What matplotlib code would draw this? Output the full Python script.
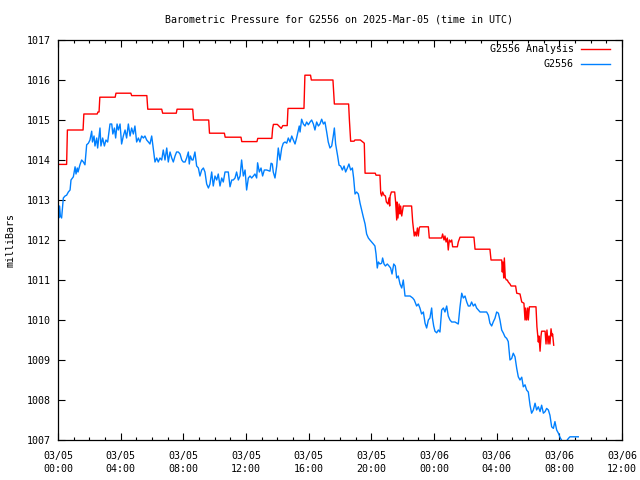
import matplotlib
matplotlib.use("Agg")
import matplotlib.pyplot as plt
from matplotlib.ticker import MultipleLocator

plt.rcParams['font.family'] = ['DejaVu Sans Mono']

title = "Barometric Pressure for G2556 on 2025-Mar-05 (time in UTC)"
ylabel = "milliBars"

# hours since 03/05 00:00 UTC, pressure in mbar
obs_hours = [0.0, 0.05, 0.1, 0.15, 0.23, 0.34, 0.45, 0.55, 0.66, 0.77, 0.83, 0.98, 1.09, 1.15, 1.23, 1.28,
             1.4, 1.51, 1.62, 1.72, 1.83, 1.94, 2.04, 2.15, 2.2, 2.3, 2.36, 2.47, 2.53, 2.68, 2.74, 2.85,
             2.96, 3.06, 3.17, 3.32, 3.43, 3.5, 3.6, 3.68, 3.77, 3.85, 3.96, 4.06, 4.17, 4.28, 4.38, 4.49,
             4.6, 4.7, 4.81, 4.91, 5.02, 5.13, 5.23, 5.34, 5.45, 5.55, 5.66, 5.77, 5.87, 5.98, 6.09, 6.19,
             6.3, 6.4, 6.51, 6.62, 6.72, 6.83, 6.94, 7.04, 7.15, 7.26, 7.36, 7.47, 7.57, 7.68, 7.79, 7.9,
             8.0, 8.11, 8.21, 8.32, 8.38, 8.45, 8.55, 8.62, 8.74, 8.85, 8.96, 9.06, 9.17, 9.28, 9.38, 9.49,
             9.6, 9.7, 9.81, 9.91, 10.02, 10.13, 10.23, 10.34, 10.45, 10.55, 10.66, 10.77, 10.87, 10.98,
             11.09, 11.19, 11.3, 11.4, 11.51, 11.62, 11.72, 11.83, 11.94, 12.04, 12.15, 12.26, 12.36,
             12.47, 12.57, 12.68, 12.74, 12.85, 12.96, 13.06, 13.17, 13.32, 13.53, 13.6, 13.68, 13.74,
             13.85, 13.96, 14.06, 14.17, 14.28, 14.38, 14.49, 14.6, 14.7, 14.81, 14.92, 15.02, 15.13,
             15.23, 15.34, 15.4, 15.45, 15.55, 15.66, 15.77, 15.87, 15.98, 16.09, 16.19, 16.3, 16.4,
             16.51, 16.62, 16.72, 16.83, 16.94, 17.04, 17.15, 17.25, 17.36, 17.47, 17.57, 17.64, 17.72,
             17.85, 17.94, 18.04, 18.15, 18.26, 18.36, 18.47, 18.57, 18.68, 18.79, 18.87, 18.96, 19.06,
             19.17, 19.28, 19.38, 19.49, 19.6, 19.7, 19.81, 19.91, 20.02, 20.13, 20.23, 20.3, 20.38,
             20.45, 20.55, 20.66, 20.72, 20.81, 20.9, 21.02, 21.13, 21.23, 21.32, 21.43, 21.53, 21.62,
             21.72, 21.83, 21.94, 22.04, 22.15, 22.26, 22.47, 22.64, 22.74, 22.89, 23.0, 23.1, 23.21,
             23.32, 23.43, 23.53, 23.64, 23.74, 23.85, 23.9, 23.98, 24.06, 24.17, 24.28, 24.38, 24.49,
             24.6, 24.7, 24.81, 24.91, 25.02, 25.13, 25.34, 25.55, 25.66, 25.77, 25.87, 25.98, 26.09,
             26.19, 26.3, 26.4, 26.51, 26.62, 26.72, 26.83, 26.94, 27.15, 27.36, 27.47, 27.57, 27.68,
             27.79, 27.89, 28.0, 28.11, 28.21, 28.32, 28.43, 28.53, 28.64, 28.74, 28.85, 28.96, 29.06,
             29.17, 29.28, 29.38, 29.49, 29.6, 29.7, 29.81, 29.91, 30.02, 30.13, 30.23, 30.34, 30.45,
             30.55, 30.66, 30.77, 30.87, 30.98, 31.09, 31.19, 31.3, 31.4, 31.51, 31.62, 31.72, 31.83,
             31.94, 32.04, 32.19, 32.32, 32.47, 32.58, 32.68, 33.21]
obs_mbar = [1012.7, 1012.55, 1012.85, 1012.6, 1012.55, 1013.05, 1013.1, 1013.12, 1013.2, 1013.25, 1013.5,
            1013.58, 1013.83, 1013.65, 1013.8, 1013.7, 1013.88, 1014.0, 1013.95, 1013.88, 1014.38,
            1014.42, 1014.5, 1014.72, 1014.45, 1014.6, 1014.35, 1014.55, 1014.3, 1014.8, 1014.35,
            1014.55, 1014.35, 1014.5, 1014.45, 1014.9, 1014.9, 1014.65, 1014.8, 1014.55, 1014.9,
            1014.75, 1014.9, 1014.4, 1014.6, 1014.75, 1014.55, 1014.9, 1014.6, 1014.8, 1014.65,
            1014.85, 1014.45, 1014.55, 1014.45, 1014.6, 1014.55, 1014.6, 1014.5, 1014.45, 1014.4,
            1014.6, 1014.25, 1013.95, 1014.05, 1013.95, 1014.05, 1014.0, 1014.25, 1014.0, 1014.3,
            1013.95, 1014.2, 1014.05, 1013.95, 1014.1, 1014.2, 1014.2, 1014.15, 1014.0, 1013.95,
            1013.95, 1014.05, 1014.2, 1013.9, 1014.1, 1014.0, 1014.0, 1014.2, 1013.85, 1013.8, 1013.6,
            1013.75, 1013.8, 1013.7, 1013.4, 1013.3, 1013.4, 1013.7, 1013.35, 1013.6, 1013.5, 1013.65,
            1013.35, 1013.55, 1013.45, 1013.7, 1013.7, 1013.7, 1013.33, 1013.5, 1013.5, 1013.55,
            1013.7, 1013.5, 1013.6, 1014.0, 1013.6, 1013.75, 1013.25, 1013.55, 1013.6, 1013.55,
            1013.6, 1013.65, 1013.55, 1013.93, 1013.7, 1013.8, 1013.6, 1013.75, 1013.75, 1013.72,
            1013.92, 1013.9, 1013.7, 1013.55, 1013.85, 1014.3, 1014.0, 1014.3, 1014.42, 1014.45,
            1014.42, 1014.55, 1014.45, 1014.6, 1014.5, 1014.4, 1014.55, 1014.75, 1014.85, 1014.7,
            1015.02, 1014.9, 1014.85, 1014.95, 1014.88, 1014.95, 1015.0, 1014.9, 1014.75, 1014.95,
            1014.85, 1014.9, 1015.02, 1014.9, 1014.95, 1014.7, 1014.45, 1014.3, 1014.35, 1014.6,
            1014.8, 1014.4, 1014.1, 1013.87, 1013.85, 1013.75, 1013.85, 1013.7, 1013.8, 1013.9,
            1013.75, 1013.8, 1013.55, 1013.15, 1013.2, 1013.15, 1012.92, 1012.75, 1012.57, 1012.4,
            1012.15, 1012.05, 1012.0, 1011.95, 1011.9, 1011.85, 1011.65, 1011.3, 1011.45, 1011.4,
            1011.42, 1011.55, 1011.4, 1011.35, 1011.4, 1011.35, 1011.3, 1011.15, 1011.4, 1011.35,
            1011.05, 1011.1, 1010.9, 1010.8, 1011.0, 1010.6, 1010.6, 1010.6, 1010.55, 1010.5, 1010.35,
            1010.4, 1010.3, 1010.15, 1010.2, 1009.92, 1009.8, 1010.0, 1010.05, 1010.3, 1010.05,
            1009.85, 1009.72, 1009.68, 1009.75, 1009.7, 1010.25, 1010.3, 1010.2, 1010.35, 1010.1,
            1010.0, 1009.95, 1009.95, 1009.9, 1010.33, 1010.67, 1010.55, 1010.6, 1010.45, 1010.35,
            1010.35, 1010.45, 1010.35, 1010.4, 1010.3, 1010.25, 1010.2, 1010.2, 1010.2, 1010.12,
            1009.92, 1009.85, 1009.96, 1010.04, 1010.2, 1010.17, 1010.0, 1009.75, 1009.67, 1009.58,
            1009.54, 1009.46, 1009.0, 1009.04, 1009.17, 1009.08, 1008.79, 1008.58, 1008.5, 1008.57,
            1008.33, 1008.38, 1008.25, 1008.2, 1007.87, 1007.67, 1007.75, 1007.92, 1007.75, 1007.83,
            1007.71, 1007.87, 1007.67, 1007.71, 1007.79, 1007.75, 1007.62, 1007.33, 1007.29, 1007.46,
            1007.25, 1007.17, 1007.07, 1006.96, 1006.9, 1006.98, 1007.04, 1007.08, 1007.08]

ana_hours = [0.0, 0.55, 0.6, 1.6, 1.65, 2.5, 2.55, 2.62, 2.67, 3.65, 3.7, 4.65, 4.7, 5.67, 5.73, 6.62, 6.68,
             7.55, 7.6, 8.6, 8.65, 9.62, 9.67, 10.62, 10.67, 11.68, 11.73, 12.7, 12.75, 13.65, 13.7, 13.75,
             14.0, 14.1, 14.25, 14.35, 14.63, 14.68, 15.7, 15.73, 15.76, 16.12, 16.17, 17.55, 17.6, 17.64,
             18.55, 18.6, 18.68, 18.9, 18.95, 19.3, 19.45, 19.55, 19.6, 20.25, 20.3, 20.55, 20.6, 20.66,
             20.72, 20.81, 20.9, 20.96, 21.06, 21.13, 21.17, 21.2, 21.28, 21.49, 21.55, 21.62, 21.64,
             21.7, 21.77, 21.83, 21.87, 21.94, 22.04, 22.57, 22.64, 22.74, 22.8, 22.87, 22.94, 23.0,
             23.06, 23.1, 23.64, 23.7, 24.49, 24.55, 24.64, 24.7, 24.77, 24.85, 24.91, 24.98, 25.06,
             25.13, 25.19, 25.49, 25.55, 25.66, 26.55, 26.62, 27.57, 27.64, 28.32, 28.36, 28.4, 28.45,
             28.49, 28.55, 28.62, 28.68, 28.74, 28.85, 28.92, 29.21, 29.28, 29.49, 29.6, 29.74, 29.81,
             29.85, 29.91, 29.98, 30.02, 30.09, 30.51, 30.57, 30.66, 30.7, 30.77, 30.83, 30.87, 31.09,
             31.15, 31.21, 31.28, 31.34, 31.4, 31.47, 31.53, 31.57, 31.64]
ana_mbar = [1013.89, 1013.89, 1014.75, 1014.75, 1015.15, 1015.15, 1015.2, 1015.2, 1015.57, 1015.57,
            1015.67, 1015.67, 1015.61, 1015.61, 1015.27, 1015.27, 1015.17, 1015.17, 1015.27, 1015.27,
            1015.0, 1015.0, 1014.67, 1014.67, 1014.57, 1014.57, 1014.46, 1014.46, 1014.54, 1014.54,
            1014.79, 1014.89, 1014.89, 1014.85, 1014.79, 1014.86, 1014.86, 1015.29, 1015.29, 1015.69,
            1016.12, 1016.12, 1016.0, 1016.0, 1015.69, 1015.4, 1015.4, 1015.0, 1014.47, 1014.47,
            1014.5, 1014.5, 1014.45, 1014.42, 1013.67, 1013.67, 1013.62, 1013.62, 1013.17, 1013.1,
            1013.2, 1013.12, 1013.1, 1012.95, 1012.9, 1013.05, 1012.85, 1013.1, 1013.2, 1013.2,
            1012.95, 1012.5, 1012.95, 1012.55, 1012.9, 1012.65, 1012.85, 1012.6, 1012.85, 1012.85,
            1012.45, 1012.1, 1012.2, 1012.1, 1012.3, 1012.1, 1012.3, 1012.33, 1012.33, 1012.05,
            1012.05, 1012.15, 1012.0, 1012.1, 1011.95, 1012.05, 1011.75, 1012.0, 1011.95, 1012.0,
            1011.83, 1011.83, 1011.95, 1012.07, 1012.07, 1011.77, 1011.77, 1011.5, 1011.5, 1011.2,
            1011.45, 1011.05, 1011.55, 1011.05, 1011.0, 1011.0, 1010.95, 1010.9, 1010.85, 1010.85,
            1010.67, 1010.65, 1010.45, 1010.42, 1010.0, 1010.3, 1010.0, 1010.3, 1010.0, 1010.33,
            1010.33, 1009.83, 1009.45, 1009.6, 1009.22, 1009.6, 1009.72, 1009.72, 1009.4, 1009.75,
            1009.4, 1009.6, 1009.4, 1009.78, 1009.6, 1009.65, 1009.37]

xtick_hours = [0, 4, 8, 12, 16, 20, 24, 28, 32, 36]
xtick_labels = ["03/05\n00:00", "03/05\n04:00", "03/05\n08:00", "03/05\n12:00", "03/05\n16:00",
                "03/05\n20:00", "03/06\n00:00", "03/06\n04:00", "03/06\n08:00", "03/06\n12:00"]
yticks = [1007, 1008, 1009, 1010, 1011, 1012, 1013, 1014, 1015, 1016, 1017]

fs = 7.2
W, H = 640, 480
fig = plt.figure(figsize=(6.4, 4.8), dpi=100)
ax = fig.add_axes([58/W, 40/H, 564/W, 400/H])

ax.plot(ana_hours, ana_mbar, color='#ff0000', lw=1.0, label='G2556 Analysis')
ax.plot(obs_hours, obs_mbar, color='#0080ff', lw=1.0, label='G2556')

ax.set_xlim(0, 36)
ax.set_ylim(1007, 1017)
ax.set_xticks(xtick_hours)
ax.set_xticklabels(xtick_labels, fontsize=fs, linespacing=1.35)
ax.xaxis.set_minor_locator(MultipleLocator(1))
ax.set_yticks(yticks)
ax.set_yticklabels([str(v) for v in yticks], fontsize=fs)
ax.tick_params(axis='both', which='major', direction='in', length=5, width=0.8,
               top=True, right=True, colors='black')
ax.tick_params(axis='x', which='major', pad=8)
ax.tick_params(axis='y', which='major', pad=5)
ax.tick_params(axis='x', which='minor', direction='in', length=2.5, width=0.8, top=True, bottom=True)
for s in ax.spines.values():
    s.set_linewidth(0.9)

fig.text(339/W, 1 - 19/H, title, fontsize=fs, ha='center', va='center')
fig.text(11/W, 0.5, ylabel, fontsize=fs, ha='center', va='center', rotation=90)

leg = ax.legend(loc='upper right', frameon=False, fontsize=fs, markerfirst=False,
                handlelength=2.9, handletextpad=0.7, borderaxespad=0, borderpad=0,
                labelspacing=0.5, bbox_to_anchor=(610/W, 1 - 44/H),
                bbox_transform=fig.transFigure)

fig.savefig('out.png', dpi=100)
